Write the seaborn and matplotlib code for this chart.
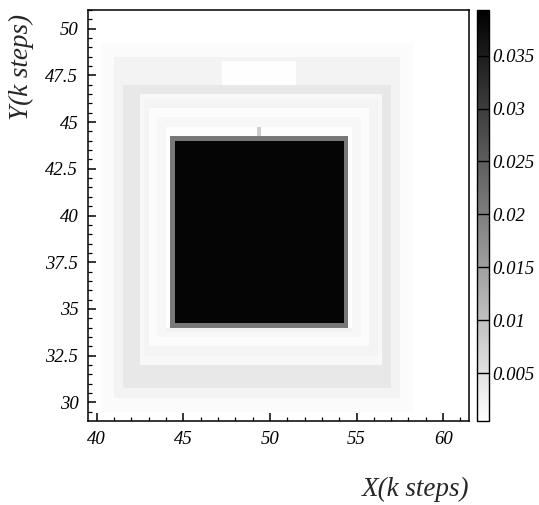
import numpy as np
import pandas as pd
import matplotlib
matplotlib.use('Agg')
import matplotlib.pyplot as plt
from matplotlib.ticker import FixedLocator
import seaborn as sns

# grid of the map (k steps), cell size
X_MIN, X_MAX = 39.5, 61.5
Y_MIN, Y_MAX = 29.0, 51.0
CELL = 0.25
BACKGROUND = 0.0006

# nested rectangles painted in order (later ones cover earlier ones)
REGION_X0 = [40.3, 41.0, 41.5, 42.4, 42.7, 43.1, 43.6, 44.0, 44.0, 47.2, 44.25, 44.5, 49.25]
REGION_X1 = [58.3, 57.6, 57.1, 56.6, 56.2, 55.8, 55.2, 54.8, 54.8, 51.5, 54.5, 54.25, 49.5]
REGION_Y0 = [29.6, 30.2, 30.8, 31.9, 32.4, 32.9, 33.4, 33.8, 33.8, 46.9, 34.0, 34.25, 44.25]
REGION_Y1 = [49.2, 48.6, 47.0, 46.6, 46.2, 45.8, 45.3, 44.8, 34.0, 48.3, 44.25, 44.0, 44.75]
REGION_VALUE = [0.0012, 0.0024, 0.0040, 0.0016, 0.0022, 0.0011, 0.0018, 0.0008,
                0.0026, 0.0008, 0.021, 0.0385, 0.008]

XTICKS = [40, 45, 50, 55, 60]
YTICKS = [30, 32.5, 35, 37.5, 40, 42.5, 45, 47.5, 50]
YTICK_LABELS = ['30', '32.5', '35', '37.5', '40', '42.5', '45', '47.5', '50']
CBAR_TICKS = [0.005, 0.01, 0.015, 0.02, 0.025, 0.03, 0.035]
V_MIN, V_MAX = 0.0005, 0.0393

# build the field
xc = np.arange(X_MIN + CELL / 2, X_MAX, CELL)
yc = np.arange(Y_MAX - CELL / 2, Y_MIN, -CELL)
field = np.full((len(yc), len(xc)), BACKGROUND)
for x0, x1, y0, y1, v in zip(REGION_X0, REGION_X1, REGION_Y0, REGION_Y1, REGION_VALUE):
    mx = (xc >= x0) & (xc <= x1)
    my = (yc >= y0) & (yc <= y1)
    field[np.ix_(my, mx)] = v
df = pd.DataFrame(field, index=np.round(yc, 3), columns=np.round(xc, 3))


def to_col(x):
    return (x - X_MIN) / CELL


def to_row(y):
    return (Y_MAX - y) / CELL


sns.set_style('ticks')
plt.rcParams['font.family'] = ['Liberation Serif', 'DejaVu Serif']
plt.rcParams['font.style'] = 'italic'

fig = plt.figure(figsize=(5.39, 5.05), dpi=100)
ax = fig.add_axes([0.1633, 0.1663, 0.7070, 0.8139])
cax = fig.add_axes([0.8844, 0.1663, 0.0234, 0.8139])

sns.heatmap(df, ax=ax, cbar_ax=cax, cmap='gray_r', vmin=V_MIN, vmax=V_MAX,
            xticklabels=False, yticklabels=False, rasterized=True)
ax.set_axisbelow(False)

for s in ax.spines.values():
    s.set_visible(True)
    s.set_color('black')
    s.set_linewidth(1.1)

ax.set_xticks([to_col(t) for t in XTICKS])
ax.set_xticklabels([str(t) for t in XTICKS], rotation=0)
ax.set_yticks([to_row(t) for t in YTICKS])
ax.set_yticklabels(YTICK_LABELS, rotation=0)
ax.xaxis.set_minor_locator(FixedLocator([to_col(t) for t in range(40, 62)]))
ax.yaxis.set_minor_locator(FixedLocator([to_row(29.5 + 0.5 * i) for i in range(44)]))
ax.tick_params(which='major', direction='in', length=6, width=1.1, labelsize=13.5,
               colors='black', bottom=True, left=True, top=False, right=False, pad=7)
ax.tick_params(which='minor', direction='in', length=3, width=0.9, colors='black',
               bottom=True, left=True, top=False, right=False)

ax.set_xlabel('X(k steps)', fontsize=19.5, loc='right')
ax.set_ylabel('Y(k steps)', fontsize=19.5, loc='top')
ax.xaxis.set_label_coords(1.0, -0.135)
ax.yaxis.set_label_coords(-0.142, 0.99)

cbar = ax.collections[0].colorbar
cbar.set_ticks(CBAR_TICKS)
cbar.set_ticklabels([f'{t:g}' for t in CBAR_TICKS])
cbar.outline.set_linewidth(1.0)
cbar.outline.set_edgecolor('black')
cbar.ax.set_axisbelow(False)
cbar.ax.tick_params(direction='in', length=9, width=1.0, labelsize=13.5, colors='black', pad=2)

fig.savefig('out.png', dpi=100)
